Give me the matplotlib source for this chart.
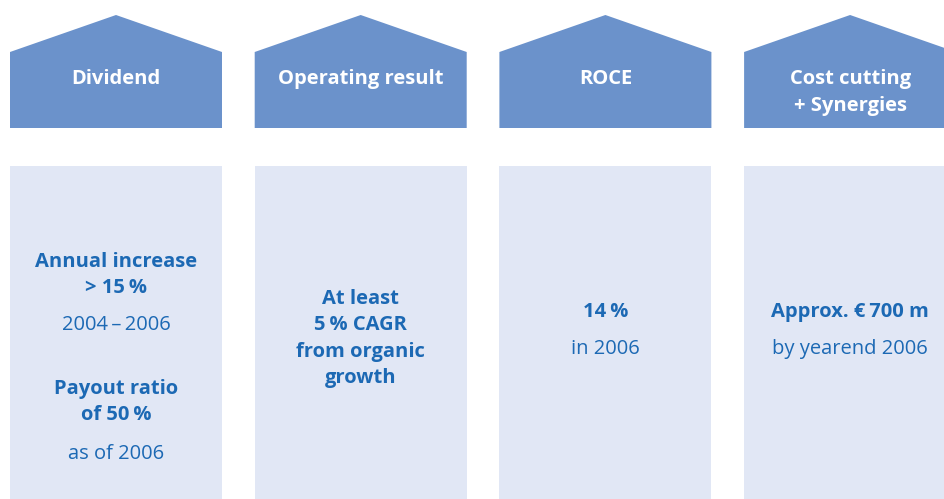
import matplotlib
matplotlib.use("Agg")
import matplotlib.pyplot as plt
from matplotlib.patches import Polygon, Rectangle

# headline per pillar
titles = [["Dividend"], ["Operating result"], ["ROCE"], ["Cost cutting", "+ Synergies"]]

# lower box content: (text, bold); thin spaces before the % signs
targets = [
    [("Annual increase", True), ("> 15\u2009%", True), ("2004\u2009–\u20092006", False),
     ("Payout ratio", True), ("of 50\u2009%", True), ("as of 2006", False)],
    [("At least", True), ("5\u2009% CAGR", True), ("from organic", True), ("growth", True)],
    [("14\u2009%", True), ("in 2006", False)],
    [("Approx. €\u2009700 m", True), ("by yearend 2006", False)],
]
# line centres (px from top) per pillar
line_y = [
    [260, 286, 323, 387, 413, 452],
    [297, 323, 350, 376],
    [310, 347],
    [310, 347],
]

ROOF = "#6b92cb"
BOX = "#e1e7f5"
TXT = "#1c69b4"

W, H = 945, 499
plt.rcParams["font.family"] = ["Open Sans", "DejaVu Sans"]
fig = plt.figure(figsize=(W / 100, H / 100), dpi=100)
ax = fig.add_axes([0, 0, 1, 1])
ax.set_xlim(0, W)
ax.set_ylim(H, 0)
ax.axis("off")

x0, pitch, bw = 10, 244.7, 212
for i, tl in enumerate(titles):
    left = x0 + i * pitch
    right = left + bw
    mid = (left + right) / 2
    ax.add_patch(Polygon([(left, 128), (left, 52), (mid, 15), (right, 52), (right, 128)],
                         closed=True, fc=ROOF, ec="none"))
    ax.add_patch(Rectangle((left, 166), bw, 340, fc=BOX, ec="none"))
    for k, t in enumerate(tl):
        ax.text(mid, 79 + 27 * k, t, ha="center", va="center", color="white",
                fontsize=14.5, fontweight="bold")
    for (s, b), y in zip(targets[i], line_y[i]):
        ax.text(mid, y + 2, s, ha="center", va="center", color=TXT, fontsize=14.5,
                fontweight="bold" if b else "normal")

fig.savefig("out.png", dpi=100)
